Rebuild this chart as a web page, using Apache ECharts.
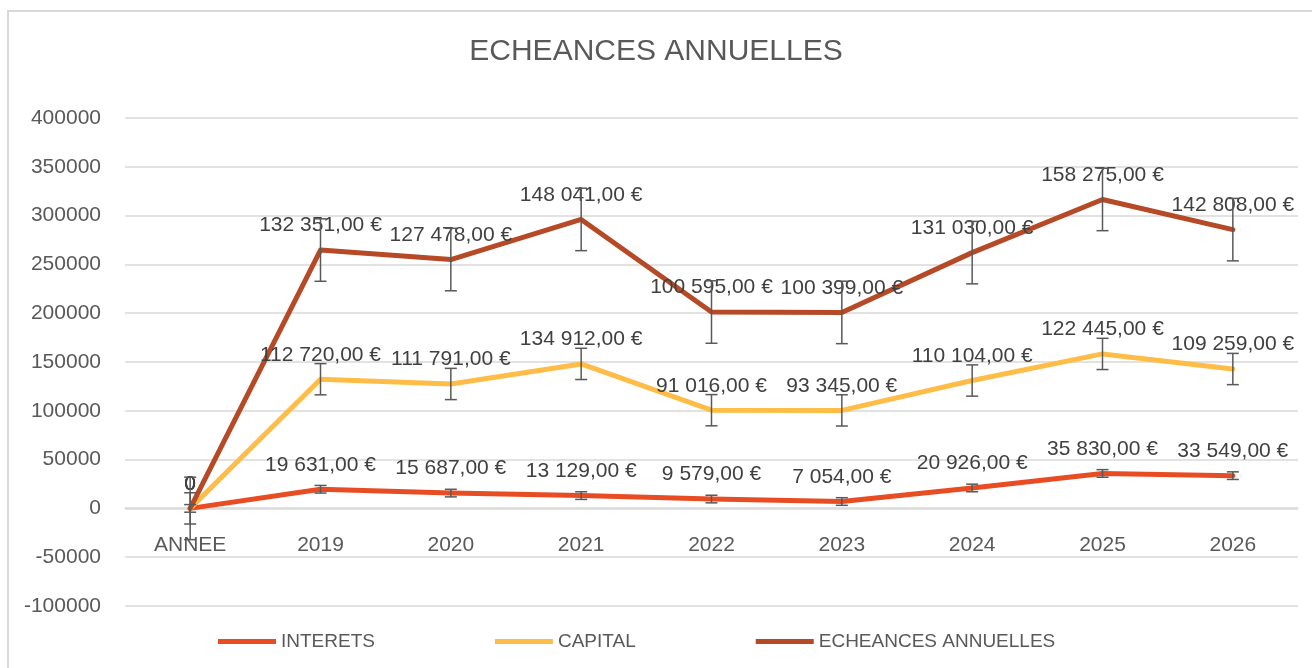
<!DOCTYPE html>
<html>
<head>
<meta charset="utf-8">
<script src="https://cdn.jsdelivr.net/npm/echarts@6/dist/echarts.min.js"></script>
<style>
  html, body { margin: 0; padding: 0; background: #fff; }
  #frame {
    position: absolute; left: 7px; top: 10px; width: 1340px; height: 700px;
    border-left: 2px solid #d9d9d9; border-top: 2px solid #d9d9d9;
  }
  #chart { position: absolute; left: 0; top: 0; width: 1312px; height: 668px; }
</style>
</head>
<body>
<div id="frame"></div>
<div id="chart"></div>
<script>
const categories = ['ANNEE', '2019', '2020', '2021', '2022', '2023', '2024', '2025', '2026']
const interets = [0, 19631, 15687, 13129, 9579, 7054, 20926, 35830, 33549]
const capital = [0, 112720, 111791, 134912, 91016, 93345, 110104, 122445, 109259]
const echeances = [0, 132351, 127478, 148041, 100595, 100399, 131030, 158275, 142808]

// ampleur des barres d'erreur
const errInterets = 3900
const errCapital = 16000
const errEcheances = 32000

const colors = ['#E84C22', '#FFBD47', '#B64926']
const font = 'Liberation Sans'

const fmt = v => {
  if (!v) return '0'
  return String(v).replace(/\B(?=(\d{3})+(?!\d))/g, ' ') + ',00 €'
}

// positions empilées pour centrer les barres d'erreur
const capTop = capital.map((v, i) => v + interets[i])
const echTop = echeances.map((v, i) => v + capTop[i])

const errData = (tops, err) => tops.map((v, i) => [i, v, err])

const renderErr = (params, api) => {
  const i = api.value(0)
  const c = api.value(1)
  const e = api.value(2)
  const hi = api.coord([i, c + e])
  const lo = api.coord([i, c - e])
  const w = 6
  const style = { stroke: '#595959', lineWidth: 1.5 }
  return {
    type: 'group',
    children: [
      { type: 'line', shape: { x1: hi[0], y1: hi[1], x2: lo[0], y2: lo[1] }, style },
      { type: 'line', shape: { x1: hi[0] - w, y1: hi[1], x2: hi[0] + w, y2: hi[1] }, style },
      { type: 'line', shape: { x1: lo[0] - w, y1: lo[1], x2: lo[0] + w, y2: lo[1] }, style }
    ]
  }
}

const lineSeries = (name, data, color) => ({
  name,
  type: 'line',
  stack: 'total',
  data,
  symbol: 'circle',
  symbolSize: 0,
  showSymbol: true,
  color,
  lineStyle: { width: 5, color, cap: 'round', join: 'round' },
  label: {
    show: true,
    position: 'top',
    distance: 14,
    formatter: p => fmt(p.value),
    color: '#404040',
    fontFamily: font,
    fontSize: 21
  },
  emphasis: { disabled: true },
  z: 2
})

const errSeries = (data) => ({
  type: 'custom',
  renderItem: renderErr,
  data,
  z: 5,
  silent: true,
  tooltip: { show: false }
})

const chart = echarts.init(document.getElementById('chart'))

const option = {
  animation: false,
  title: {
    text: 'ECHEANCES ANNUELLES',
    left: 'center',
    top: 32,
    textStyle: { fontFamily: font, fontSize: 30, fontWeight: 'normal', color: '#595959' }
  },
  legend: {
    data: ['INTERETS', 'CAPITAL', 'ECHEANCES ANNUELLES'],
    left: 213,
    top: 627,
    icon: 'rect',
    itemWidth: 58,
    itemHeight: 5,
    itemGap: 120,
    textStyle: { fontFamily: font, fontSize: 19, color: '#595959' }
  },
  grid: { left: 125, right: 14, top: 118, bottom: 62, containLabel: false },
  xAxis: {
    type: 'category',
    data: categories,
    boundaryGap: true,
    offset: -98,
    axisLine: { onZero: false, lineStyle: { color: '#d9d9d9', width: 1.5 } },
    axisTick: { show: false },
    axisLabel: { color: '#595959', fontFamily: font, fontSize: 21, margin: 27 }
  },
  yAxis: {
    type: 'value',
    min: -100000,
    max: 400000,
    interval: 50000,
    axisLine: { show: false },
    axisTick: { show: false },
    axisLabel: { color: '#595959', fontFamily: font, fontSize: 21, margin: 24, formatter: v => String(v) },
    splitLine: { lineStyle: { color: '#d9d9d9', width: 1.5 } }
  },
  series: [
    lineSeries('INTERETS', interets, colors[0]),
    lineSeries('CAPITAL', capital, colors[1]),
    lineSeries('ECHEANCES ANNUELLES', echeances, colors[2]),
    errSeries(errData(interets, errInterets)),
    errSeries(errData(capTop, errCapital)),
    errSeries(errData(echTop, errEcheances))
  ]
}

chart.setOption(option)
window.addEventListener('resize', () => chart.resize())
</script>
</body>
</html>
